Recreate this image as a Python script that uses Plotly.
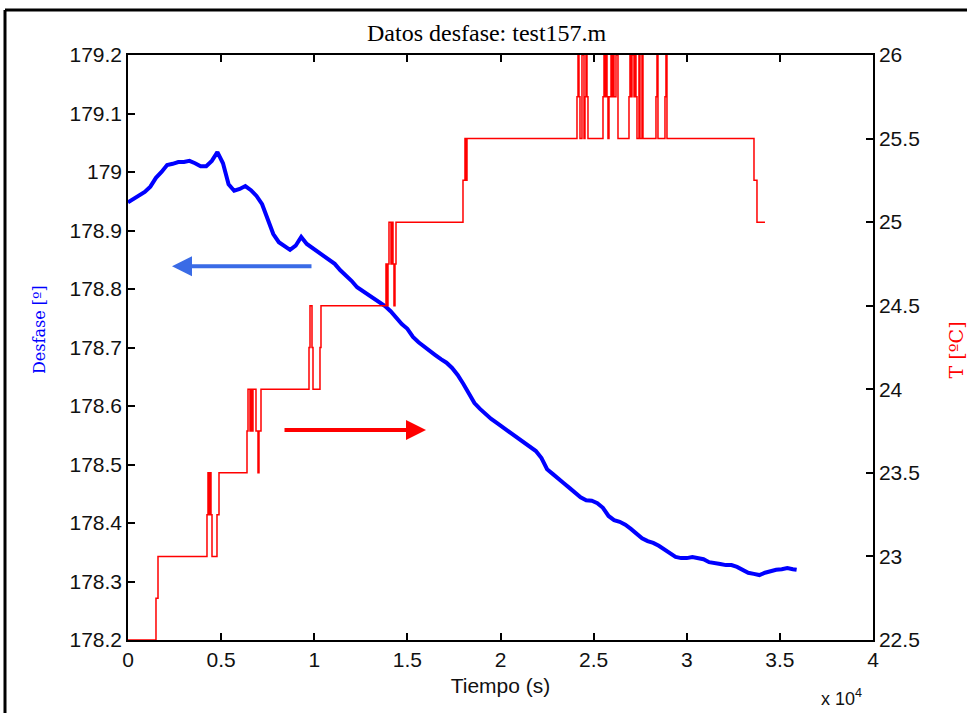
import plotly.graph_objects as go

# ---- data: phase shift (Desfase) vs time ----
t_phase = [0, 300, 600, 900, 1200, 1500, 1800, 2100, 2400, 2700, 3000, 3300, 3600, 3900, 4200,
           4500, 4800, 5100, 5400, 5700, 6000, 6300, 6600, 6900, 7200, 7500, 7800, 8100, 8400,
           8700, 9000, 9300, 9600, 9900, 10200, 10500, 10800, 11100, 11400, 11700, 12000, 12300,
           12600, 12900, 13200, 13500, 13800, 14100, 14400, 14700, 15000, 15300, 15600, 15900,
           16200, 16500, 16800, 17100, 17400, 17700, 18000, 18300, 18600, 18900, 19200, 19500,
           19800, 20100, 20400, 20700, 21000, 21300, 21600, 21900, 22200, 22500, 22800, 23100,
           23400, 23700, 24000, 24300, 24600, 24900, 25200, 25500, 25800, 26100, 26400, 26700,
           27000, 27300, 27600, 27900, 28200, 28500, 28800, 29100, 29400, 29700, 30000, 30300,
           30600, 30900, 31200, 31500, 31800, 32100, 32400, 32700, 33000, 33300, 33600, 33900,
           34200, 34500, 34800, 35100, 35400, 35700, 35900]
desfase = [178.948, 178.954, 178.959, 178.966, 178.975, 178.990, 179.000, 179.012, 179.014,
           179.017, 179.017, 179.019, 179.015, 179.010, 179.010, 179.019, 179.034, 179.015,
           178.979, 178.968, 178.971, 178.976, 178.969, 178.959, 178.945, 178.921, 178.894,
           178.880, 178.874, 178.867, 178.874, 178.889, 178.877, 178.870, 178.863, 178.856,
           178.851, 178.843, 178.832, 178.824, 178.814, 178.803, 178.797, 178.790, 178.785,
           178.778, 178.771, 178.762, 178.750, 178.740, 178.732, 178.718, 178.709, 178.701,
           178.694, 178.687, 178.680, 178.674, 178.665, 178.653, 178.638, 178.621, 178.605,
           178.595, 178.586, 178.578, 178.571, 178.564, 178.557, 178.552, 178.544, 178.537,
           178.530, 178.523, 178.511, 178.492, 178.484, 178.477, 178.468, 178.460, 178.451,
           178.444, 178.439, 178.438, 178.434, 178.426, 178.412, 178.405, 178.402, 178.397,
           178.390, 178.381, 178.374, 178.369, 178.366, 178.361, 178.354, 178.349, 178.342,
           178.340, 178.340, 178.342, 178.340, 178.338, 178.333, 178.332, 178.330, 178.328,
           178.328, 178.325, 178.320, 178.315, 178.313, 178.311, 178.315, 178.318, 178.320,
           178.321, 178.323, 178.321, 178.320]

# ---- data: temperature steps vs time ----
t_temp = [0, 1503, 1611, 4241, 4295, 4349, 4403, 4456, 4510, 4778, 4886, 6389, 6443, 6550,
          6604, 6658, 6711, 6872, 6980, 7033, 7141, 9718, 9772, 9879, 9933, 10308, 10362,
          13852, 13906, 13959, 14013, 14120, 14174, 14228, 14281, 14335, 14389, 17986, 18093,
          18147, 18201, 24107, 24161, 24214, 24268, 24375, 24483, 24536, 24590, 24644, 24697,
          25503, 25557, 25610, 25664, 25718, 25771, 25825, 25933, 25986, 26040, 26094, 26201,
          26308, 26899, 26952, 27006, 27060, 27167, 27221, 27274, 27328, 27435, 27489, 27596,
          27650, 28348, 28402, 28455, 28831, 28884, 28938, 33610, 33771, 34200]
temp = [22.5, 22.75, 23.0, 23.25, 23.5, 23.25, 23.5, 23.25, 23.0, 23.25, 23.5, 23.75, 24.0,
        23.75, 24.0, 23.75, 24.0, 23.75, 23.5, 23.75, 24.0, 24.25, 24.5, 24.25, 24.0, 24.25,
        24.5, 24.75, 24.5, 24.75, 25.0, 24.75, 25.0, 24.75, 24.5, 24.75, 25.0, 25.25, 25.5,
        25.25, 25.5, 25.75, 26.0, 25.75, 25.5, 26.0, 25.5, 25.75, 26.0, 25.75, 25.5,
        25.75, 26.0, 25.75, 26.0, 25.75, 25.5, 25.75, 26.0, 25.75, 26.0, 25.75, 26.0,
        25.5, 25.75, 26.0, 25.75, 26.0, 25.75, 26.0, 25.75, 25.5, 26.0, 25.5, 26.0,
        25.5, 25.75, 26.0, 25.5, 25.75, 26.0, 25.5, 25.25, 25.0, 25.0]

x_ticks = [0, 5000, 10000, 15000, 20000, 25000, 30000, 35000, 40000]
x_tick_labels = ["0", "0.5", "1", "1.5", "2", "2.5", "3", "3.5", "4"]
y1_ticks = [178.2, 178.3, 178.4, 178.5, 178.6, 178.7, 178.8, 178.9, 179.0, 179.1, 179.2]
y1_tick_labels = ["178.2", "178.3", "178.4", "178.5", "178.6", "178.7", "178.8", "178.9",
                  "179", "179.1", "179.2"]
y2_ticks = [22.5, 23, 23.5, 24, 24.5, 25, 25.5, 26]
y2_tick_labels = ["22.5", "23", "23.5", "24", "24.5", "25", "25.5", "26"]

SANS = "Liberation Sans, Arial, sans-serif"
SERIF = "Liberation Serif, Times New Roman, serif"
SLAB = "DejaVu Serif, serif"

fig = go.Figure()
fig.add_trace(go.Scatter(x=t_phase, y=desfase, mode="lines",
                         line=dict(color="#0000ff", width=4), yaxis="y",
                         showlegend=False, cliponaxis=False))
fig.add_trace(go.Scatter(x=t_temp, y=temp, mode="lines",
                         line=dict(color="#ff0000", width=1.5, shape="hv"), yaxis="y2",
                         showlegend=False, cliponaxis=False))

axis_common = dict(showgrid=False, zeroline=False, showline=True, linecolor="black",
                   linewidth=1.5, ticks="inside", ticklen=7, tickcolor="black", tickwidth=1.5,
                   tickfont=dict(family=SANS, size=21, color="#111111"))

fig.update_layout(
    width=967, height=713,
    margin=dict(l=128, r=94, t=55, b=73, autoexpand=False),
    paper_bgcolor="white", plot_bgcolor="white",
    xaxis=dict(range=[0, 40000], tickvals=x_ticks, ticktext=x_tick_labels, mirror="ticks",
               title=dict(text="Tiempo (s)", font=dict(family=SANS, size=21, color="#111111"),
                          standoff=8),
               **axis_common),
    yaxis=dict(range=[178.2, 179.2], tickvals=y1_ticks, ticktext=y1_tick_labels,
               **axis_common),
    yaxis2=dict(range=[22.5, 26], tickvals=y2_ticks, ticktext=y2_tick_labels,
                overlaying="y", side="right",
                **axis_common),
)

# title and axis titles as annotations
fig.add_annotation(text="Datos desfase: test157.m", xref="paper", yref="paper", x=0.482,
                   y=1.0376, showarrow=False, xanchor="center", yanchor="middle",
                   font=dict(family=SERIF, size=24, color="black"))
fig.add_annotation(text="Desfase [º]", xref="paper", yref="paper", x=-0.1181, y=0.530,
                   showarrow=False, xanchor="center", yanchor="middle", textangle=-90,
                   font=dict(family=SLAB, size=16, color="#0000ff"))
fig.add_annotation(text="T [ºC]", xref="paper", yref="paper", x=1.112, y=0.4957,
                   showarrow=False, xanchor="center", yanchor="middle", textangle=-90,
                   font=dict(family=SLAB, size=19, color="#ff0000"))

# figure frame (black border)
fig.add_shape(type="line", xref="paper", yref="paper", x0=-0.1651, x1=1.3, y0=1.0769, y1=1.0769,
              line=dict(color="black", width=3))
fig.add_shape(type="line", xref="paper", yref="paper", x0=-0.1651, x1=-0.1651, y0=-0.2, y1=1.0769,
              line=dict(color="black", width=3))

# exponent annotation
fig.add_annotation(text="x 10<sup>4</sup>", xref="paper", yref="paper", x=0.958, y=-0.098,
                   showarrow=False, xanchor="center", yanchor="middle",
                   font=dict(family=SANS, size=18, color="#111111"))

# arrows
fig.add_annotation(x=2362, y=178.839, xref="x", yref="y", ax=141, ay=0, axref="pixel",
                   ayref="pixel", text="", showarrow=True, arrowhead=2, arrowsize=1,
                   arrowwidth=4, arrowcolor="#3a6be6")
fig.add_annotation(x=16000, y=23.756, xref="x", yref="y2", ax=-143, ay=0, axref="pixel",
                   ayref="pixel", text="", showarrow=True, arrowhead=2, arrowsize=1,
                   arrowwidth=4, arrowcolor="#ff0000")

fig.write_html("out.html")
